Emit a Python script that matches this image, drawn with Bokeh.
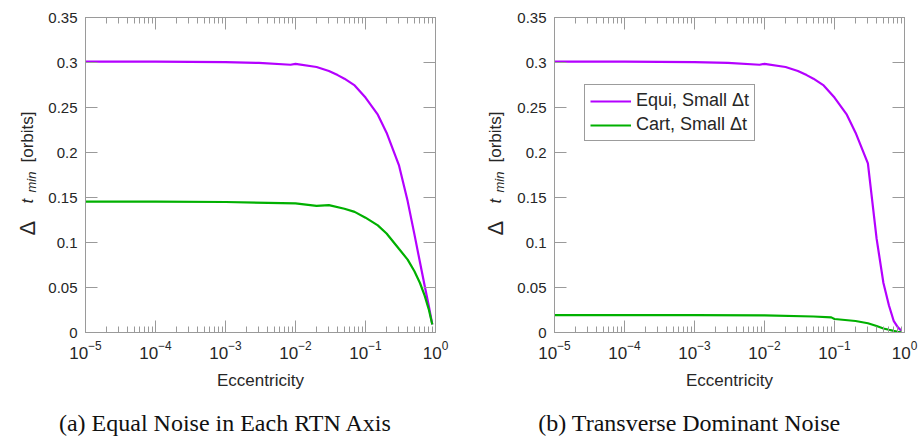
import math
from bokeh.plotting import figure
from bokeh.models import (Range1d, LogAxis, LinearAxis, FixedTicker, LogTickFormatter,
                          CustomJSTickFormatter, Legend, LegendItem)
from bokeh.layouts import row, column
from bokeh.core.properties import value
from bokeh.embed import file_html
from bokeh.resources import INLINE

# ---------------- data ----------------
# (a) Equal noise in each RTN axis
ecc_a_equi = [1e-5, 1e-4, 1e-3, 3e-3, 0.0085, 0.01, 0.02, 0.03, 0.04, 0.05, 0.07,
              0.1, 0.15, 0.2, 0.3, 0.4, 0.5, 0.6, 0.7, 0.8, 0.9]
dt_a_equi = [0.301, 0.301, 0.3005, 0.2995, 0.2975, 0.2985, 0.295, 0.2905, 0.286, 0.282, 0.2745,
             0.261, 0.242, 0.222, 0.186, 0.146, 0.109, 0.078, 0.052, 0.030, 0.009]
ecc_a_cart = [1e-5, 1e-4, 1e-3, 0.01, 0.02, 0.03, 0.05, 0.07,
              0.1, 0.15, 0.2, 0.3, 0.4, 0.5, 0.6, 0.7, 0.8, 0.9]
dt_a_cart = [0.1455, 0.1455, 0.145, 0.1435, 0.1407, 0.1415, 0.1375, 0.134,
             0.1276, 0.119, 0.110, 0.093, 0.081, 0.068, 0.055, 0.041, 0.026, 0.009]

# (b) Transverse dominant noise
ecc_b_equi = [1e-5, 1e-4, 1e-3, 3e-3, 0.0085, 0.01, 0.02, 0.03, 0.04, 0.05, 0.07,
              0.1, 0.15, 0.2, 0.3, 0.4, 0.5, 0.6, 0.7, 0.8, 0.9]
dt_b_equi = [0.301, 0.301, 0.3005, 0.2995, 0.2975, 0.2985, 0.295, 0.2905, 0.286, 0.282, 0.2745,
             0.261, 0.242, 0.222, 0.188, 0.104, 0.055, 0.030, 0.013, 0.006, 0.002]
ecc_b_cart = [1e-5, 1e-4, 1e-3, 0.01, 0.05, 0.09, 0.1, 0.2, 0.3, 0.4, 0.5, 0.6, 0.7, 0.8, 0.9]
dt_b_cart = [0.0193, 0.0193, 0.0192, 0.019, 0.0178, 0.0168, 0.0150, 0.0128, 0.0103, 0.0072,
             0.0045, 0.0030, 0.0018, 0.0008, 0.0002]

series_labels = ["Equi, Small \u0394t", "Cart, Small \u0394t"]
captions = ["(a)  Equal Noise in Each RTN Axis", "(b)  Transverse Dominant Noise"]
x_label = "Eccentricity"
y_label_parts = ["\u0394", "t", "min", "[orbits]"]
x_major = [1e-5, 1e-4, 1e-3, 1e-2, 1e-1, 1.0]
x_minor = [m * d for d in x_major[:-1] for m in range(2, 10)]
y_major = [0, 0.05, 0.1, 0.15, 0.2, 0.25, 0.3, 0.35]

# ---------------- style ----------------
MAGENTA = "#B400FF"
GREEN = "#00B000"
AX = "#9a9a9a"
TXT = "#262626"
SANS = "Liberation Sans"
SERIF = "Liberation Serif"
TOP_H = 400      # height of the row holding the plots
B_TOP = 17       # frame borders shared by every figure in the row
B_BOT = 68


def style_axis(ax, labels=True):
    ax.axis_line_color = AX
    ax.major_tick_line_color = AX
    ax.minor_tick_line_color = AX
    ax.major_tick_in = 12
    ax.major_tick_out = 0
    ax.minor_tick_in = 6
    ax.minor_tick_out = 0
    ax.major_label_text_color = TXT
    ax.major_label_text_font = SANS
    if not labels:
        ax.formatter = CustomJSTickFormatter(code="return ''")
        ax.major_label_text_font_size = "1px"
        ax.major_label_standoff = 0


def blank_fig(w, h, top=0, bottom=0):
    # data coordinates = pixels measured from the canvas' bottom-left corner
    f = figure(width=w, height=h, x_range=Range1d(0, w), y_range=Range1d(bottom, h - top),
               x_axis_location=None, y_axis_location=None,
               min_border_left=0, min_border_right=0,
               min_border_top=top, min_border_bottom=bottom,
               output_backend="svg", toolbar_location=None)
    f.outline_line_color = None
    f.grid.visible = False
    f.background_fill_color = "white"
    f.border_fill_color = "white"
    return f


def ylabel_fig(width, base_x):
    f = blank_fig(width, TOP_H, B_TOP, B_BOT)
    # (text, style, size, x of baseline, y start) -- text reads bottom to top
    specs = [
        (y_label_parts[0], "normal", "22px", base_x, 165),
        (y_label_parts[1], "italic", "17px", base_x, 197),
        (y_label_parts[2], "italic", "13px", base_x + 4, 208),
        (y_label_parts[3], "normal", "17px", base_x, 238),
    ]
    for txt, style, size, sx, sy in specs:
        f.text(x=[sx], y=[sy], text=[txt], angle=math.pi / 2,
               text_font=value(SANS), text_font_style=style, text_font_size=size,
               text_color=TXT, text_align="left", text_baseline="alphabetic")
    return f


def make_panel(width, left, right, e1, d1, e2, d2, legend):
    p = figure(width=width, height=TOP_H, x_axis_type="log",
               x_range=Range1d(1e-5, 1.0), y_range=Range1d(0, 0.35),
               output_backend="svg", toolbar_location=None,
               min_border_left=left, min_border_right=right,
               min_border_top=B_TOP, min_border_bottom=B_BOT)
    p.grid.visible = False
    p.outline_line_color = AX
    p.background_fill_color = "white"
    p.border_fill_color = "white"

    xt = FixedTicker(ticks=x_major, minor_ticks=x_minor)
    yt = FixedTicker(ticks=y_major, minor_ticks=[])

    xa = p.xaxis[0]
    xa.ticker = xt
    xa.formatter = LogTickFormatter()
    style_axis(xa)
    xa.major_label_text_font_size = "17px"
    xa.major_label_standoff = 8
    xa.axis_label = x_label
    xa.axis_label_text_font = SANS
    xa.axis_label_text_font_size = "17px"
    xa.axis_label_text_font_style = "normal"
    xa.axis_label_text_color = TXT
    xa.axis_label_standoff = 9

    ya = p.yaxis[0]
    ya.ticker = yt
    ya.formatter = CustomJSTickFormatter(code="return String(Math.round(tick*100)/100)")
    style_axis(ya)
    ya.major_label_text_font_size = "15px"
    ya.major_label_standoff = 8

    top = LogAxis(ticker=xt)
    style_axis(top, labels=False)
    p.add_layout(top, "above")
    rgt = LinearAxis(ticker=yt)
    style_axis(rgt, labels=False)
    p.add_layout(rgt, "right")

    r1 = p.line(e1, d1, line_color=MAGENTA, line_width=2.2)
    r2 = p.line(e2, d2, line_color=GREEN, line_width=2.2)

    if legend:
        lg = Legend(items=[LegendItem(label=series_labels[0], renderers=[r1]),
                           LegendItem(label=series_labels[1], renderers=[r2])],
                    location=(30, 191))
        lg.label_text_font = SANS
        lg.label_text_font_size = "18px"
        lg.label_text_color = TXT
        lg.border_line_color = "#3a3a3a"
        lg.border_line_width = 1
        lg.background_fill_alpha = 1.0
        lg.glyph_width = 41
        lg.glyph_height = 20
        lg.label_height = 20
        lg.label_standoff = 5
        lg.spacing = 3
        lg.padding = 5
        lg.margin = 0
        p.add_layout(lg, "center")
    return p


# left half: 42 px label strip + plot (frame from x=85 to 435)
yl_a = ylabel_fig(42, 27)
p1 = make_panel(418, 43, 25, ecc_a_equi, dt_a_equi, ecc_a_cart, dt_a_cart, False)
# right half: 50 px label strip + plot (frame from x=554 to 904)
yl_b = ylabel_fig(50, 35)
p2 = make_panel(410, 44, 16, ecc_b_equi, dt_b_equi, ecc_b_cart, dt_b_cart, True)

cap = blank_fig(920, 436 - TOP_H)
cap.text(x=[228, 692], y=[14, 14], text=captions,
         text_font=value(SERIF), text_font_size="24px", text_color="#111111",
         text_align="center", text_baseline="middle")

layout = column(row(yl_a, p1, yl_b, p2), cap)
open("out.html", "w").write(file_html(layout, INLINE))
